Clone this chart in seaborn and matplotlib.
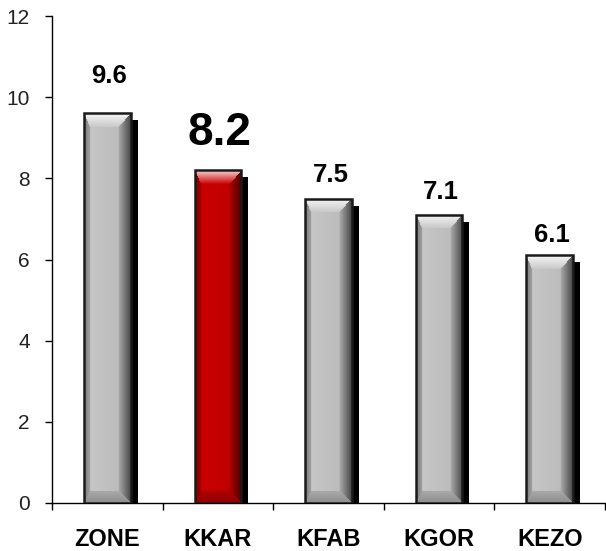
import numpy as np
import pandas as pd
import matplotlib
matplotlib.use('Agg')
import matplotlib.pyplot as plt
import matplotlib.colors as mcolors
from matplotlib.patches import Rectangle
from matplotlib.ticker import FixedLocator
import seaborn as sns

# datos del gráfico
categorias = ['ZONE', 'KKAR', 'KFAB', 'KGOR', 'KEZO']
valores = [9.6, 8.2, 7.5, 7.1, 6.1]
colores = ['#C8C8C8', '#CC0000', '#C8C8C8', '#C8C8C8', '#C8C8C8']
etiquetas = ['9.6', '8.2', '7.5', '7.1', '6.1']
tam_etiqueta = [18.5, 33, 18.5, 18.5, 18.5]
desfase_etiqueta = [27, 27, 17, 16.5, 15]  # puntos sobre la barra
marcas_y = [0, 2, 4, 6, 8, 10, 12]

sns.set_theme(style='white')
plt.rcParams['font.family'] = ['Liberation Sans', 'DejaVu Sans']

df = pd.DataFrame({'cat': categorias, 'val': valores})

fig = plt.figure(figsize=(6.06, 5.51), dpi=100)
ax = fig.add_axes([52/606, 1 - 503/551, 553/606, 487/551])

sns.barplot(data=df, x='cat', y='val', hue='cat', palette=colores,
            width=0.42, legend=False, ax=ax, edgecolor='none', zorder=3)

# pixeles por unidad de datos
px_x = 553 / 5
px_y = 487 / 12


def textura(color, w_px, h_px):
    # barra con biseles tipo 3D
    base = np.array(mcolors.to_rgb(color))
    ny, nx = max(int(h_px), 2), max(int(w_px), 2)
    yy, xx = np.mgrid[0:ny, 0:nx] + 0.5
    biseles = np.array([14, 12, 6, 12])  # arriba, abajo, izq, der
    d = np.stack([yy, ny - yy, xx, nx - xx]) / biseles[:, None, None]
    cara = np.argmin(d, axis=0)
    dmin = np.min(d, axis=0)
    cara[dmin >= 1] = 4

    img = np.zeros((ny, nx, 3))
    t = xx / nx
    # centro
    sh = 1.0 - 0.08 * t
    img[:] = base * sh[..., None]
    # arriba: aclarar hacia el borde
    m = cara == 0
    k = (1 - d[0]) * 0.85
    img[m] = base + (1 - base) * k[m][:, None]
    # abajo
    m = cara == 1
    img[m] = base * (0.85 - 0.15 * (1 - d[1][m]))[:, None]
    # izquierda
    m = cara == 2
    img[m] = base * (0.8 - 0.2 * (1 - d[2][m]))[:, None]
    # derecha: oscurecer hacia el borde
    m = cara == 3
    img[m] = base * (0.85 - 0.5 * (1 - d[3][m]))[:, None]
    return np.clip(img, 0, 1)


sx = 7 / px_x
sy = 7 / px_y
for i, barra in enumerate(ax.patches):
    x0 = barra.get_x()
    w = barra.get_width()
    h = barra.get_height()
    # sombra
    ax.add_patch(Rectangle((x0 + sx, 0), w, h - sy, facecolor='black',
                           edgecolor='none', zorder=2))
    img = textura(colores[i], w * px_x, h * px_y)
    ax.imshow(img, extent=(x0, x0 + w, 0, h), aspect='auto',
              interpolation='bilinear', zorder=4, origin='upper')
    ax.add_patch(Rectangle((x0, 0), w, h, fill=False, edgecolor='#1a1a1a',
                           linewidth=1.8, zorder=5))

for i, v in enumerate(valores):
    ax.annotate(etiquetas[i], (i, v), xytext=(1.5, desfase_etiqueta[i]),
                textcoords='offset points', ha='center', va='center',
                fontsize=tam_etiqueta[i], fontweight='bold', color='black')

ax.set_xlim(-0.5, 4.5)
ax.set_ylim(0, 12)
ax.set_yticks(marcas_y)
ax.set_yticklabels([str(m) for m in marcas_y])
ax.set_xticks(range(len(categorias)))
ax.set_xticklabels(categorias, fontsize=17, fontweight='bold')
ax.xaxis.set_minor_locator(FixedLocator(np.arange(-0.5, 5, 1)))
ax.tick_params(axis='x', which='major', bottom=False, length=0, pad=18,
               labelcolor='black')
ax.tick_params(axis='x', which='minor', bottom=True, length=5, width=1,
               direction='out', color='black')
ax.tick_params(axis='y', left=True, length=5, width=1, direction='out',
               pad=11, labelsize=15, color='black', labelcolor='#222222')
ax.set_xlabel('')
ax.set_ylabel('')
for lado in ['top', 'right']:
    ax.spines[lado].set_visible(False)
for lado in ['left', 'bottom']:
    ax.spines[lado].set_color('black')
    ax.spines[lado].set_linewidth(1)

fig.savefig('out.png', dpi=100, facecolor='white')
